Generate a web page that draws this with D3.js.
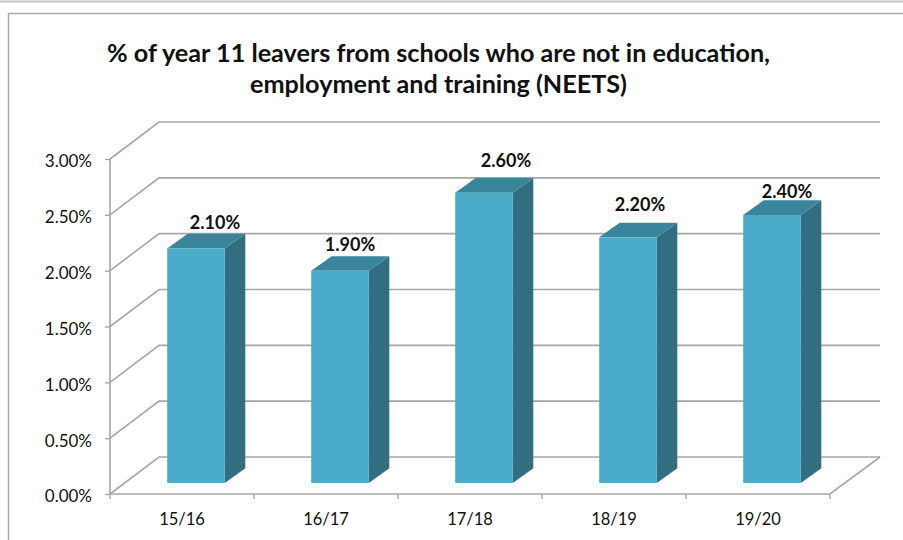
<!DOCTYPE html>
<html><head><meta charset="utf-8">
<script src="https://cdn.jsdelivr.net/npm/d3@7"></script>
<style>html,body{margin:0;padding:0;background:#fff}svg{display:block}text{font-family:Lato,"Open Sans",sans-serif;fill:#111}</style>
</head><body><svg id="c" width="903" height="540"></svg>
<script>
const categories = ["15/16","16/17","17/18","18/19","19/20"];
const values = [2.1,1.9,2.6,2.2,2.4];
const yTicks = [0,0.5,1,1.5,2,2.5,3];
const titleLines = ["% of year 11 leavers from schools who are not in education,","employment and training (NEETS)"];
// layout of manually placed data labels in the reference
const labelDx = [19,10,22,12,15];
const labelDy = [-11,-12,-17,-18,-9];

const svg = d3.select("#c");
const x = d3.scaleBand().domain(categories).range([110,830]).paddingInner(0.6).paddingOuter(0.3);
const xAxisBand = d3.scaleBand().domain(categories).range([110,830]);
const y = d3.scaleLinear().domain([0,3]).range([494,159]);
const fmt = d => d3.format(".2f")(d)+"%";
const depthX=49, depthY=-37, floorX=14, floorY=-11, barX=20.5, barY=-14.7;
const grid="#a6a6a6";

// frame
svg.append("path").attr("d","M0,1.5H903").attr("stroke","#c4c4c4").attr("stroke-width",2).attr("fill","none");
svg.append("path").attr("d","M8.5,540V13.5H903").attr("stroke","#a8a8a8").attr("stroke-width",1.5).attr("fill","none");

// gridlines with side wall
const g = svg.append("g").attr("fill","none").attr("stroke",grid).attr("stroke-width",1.6);
g.selectAll(".gl").data(yTicks).join("path").attr("class","gl")
 .attr("d",d=>`M110,${y(d)}L${110+depthX},${y(d)+depthY}H880`);
g.append("path").attr("d",`M110,${y(3)}V${y(0)}H830L880,${y(0)+depthY}`);

// axis ticks and labels via d3 axes
const ya = svg.append("g").attr("transform","translate(110,0)")
  .call(d3.axisLeft(y).tickValues(yTicks).tickFormat(fmt).tickSize(5).tickSizeOuter(0));
ya.select(".domain").remove();
ya.selectAll("line").attr("stroke",grid).attr("stroke-width",1.4);
ya.selectAll("text").attr("x",-18).attr("dy","1.05em").attr("font-size",17).attr("fill","#111")
  .attr("transform","translate(0,-10)");

const xa = svg.append("g").attr("transform",`translate(0,${y(0)})`);
xa.selectAll("line").data(d3.range(categories.length+1)).join("line")
  .attr("x1",i=>110+i*xAxisBand.step()).attr("x2",i=>110+i*xAxisBand.step()).attr("y1",0).attr("y2",5)
  .attr("stroke",grid).attr("stroke-width",1.4);
xa.selectAll("text").data(categories).join("text")
  .attr("x",d=>xAxisBand(d)+xAxisBand.bandwidth()/2).attr("y",31).attr("text-anchor","middle")
  .attr("font-size",16.5).text(d=>d);

// 3-D bars
const bars = svg.append("g").selectAll("g").data(categories.map((c,i)=>({c,v:values[i],i}))).join("g");
const L=d=>x(d.c)+floorX, R=d=>L(d)+x.bandwidth(), T=d=>y(d.v)+floorY, B=()=>y(0)+floorY;
bars.append("path").attr("fill","#316f80")
  .attr("d",d=>`M${R(d)},${T(d)}l${barX},${barY}V${B()+barY}L${R(d)},${B()}Z`);
bars.append("path").attr("fill","#39859c")
  .attr("d",d=>`M${L(d)},${T(d)}l${barX},${barY}H${R(d)+barX}L${R(d)},${T(d)}Z`);
bars.append("rect").attr("fill","#4aacc8")
  .attr("x",L).attr("y",T).attr("width",x.bandwidth()).attr("height",d=>B()-T(d));
bars.append("text").attr("text-anchor","middle").attr("font-weight",700).attr("font-size",18)
  .attr("x",d=>(L(d)+R(d))/2+labelDx[d.i]).attr("y",d=>T(d)+barY+labelDy[d.i]+6.5)
  .text(d=>fmt(d.v));

// title
svg.selectAll(".t").data(titleLines).join("text").attr("class","t")
  .attr("x",438.5).attr("y",(d,i)=>62+i*31).attr("text-anchor","middle")
  .attr("font-weight",700).attr("font-size",25.2).text(d=>d);
</script></body></html>
